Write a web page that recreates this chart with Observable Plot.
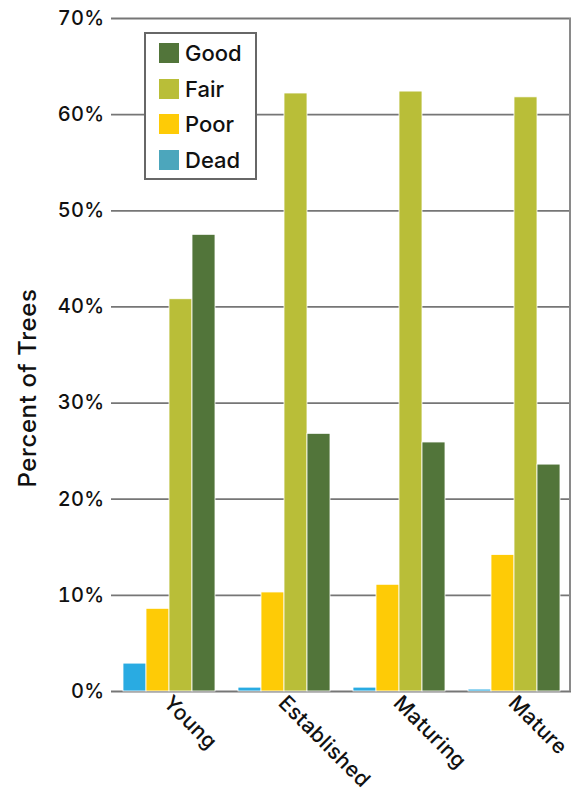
<!DOCTYPE html>
<html>
<head>
<meta charset="utf-8">
<script src="https://cdn.jsdelivr.net/npm/d3@7"></script>
<script src="https://cdn.jsdelivr.net/npm/@observablehq/plot@0.6"></script>
<style>
  html, body { margin: 0; padding: 0; background: #fff; }
  #wrap { position: relative; width: 573px; height: 798px; font-family: Inter, "Noto Sans", sans-serif; font-weight: 500; color: #111; }
  #ylabel { position: absolute; left: 27px; top: 388px; transform: translate(-50%, -50%) rotate(-90deg); font-size: 24px; letter-spacing: 0.6px; white-space: nowrap; }
  #legend { position: absolute; left: 144px; top: 32px; width: 109px; height: 144px; border: 2.5px solid #676767; background: #fff; }
  .row { position: absolute; left: 13px; height: 20px; display: flex; align-items: center; font-size: 22px; }
  .sw { width: 20px; height: 20px; margin-right: 6px; flex: none; }
</style>
</head>
<body>
<div id="wrap"><div id="chart"></div><div id="ylabel">Percent of Trees</div><div id="legend"></div></div>
<script>
const categories = ["Young", "Established", "Maturing", "Mature"];
const conditions = ["Dead", "Poor", "Fair", "Good"];
const dead = [2.9, 0.4, 0.4, 0.2];
const poor = [8.6, 10.3, 11.1, 14.2];
const fair = [40.8, 62.2, 62.4, 61.8];
const good = [47.5, 26.8, 25.9, 23.6];
const yTicks = [0, 10, 20, 30, 40, 50, 60, 70];
const barColors = ["#29abe2", "#fecb06", "#b9be38", "#52753a"];
const legendOrder = ["Good", "Fair", "Poor", "Dead"];
const legendColors = ["#52753a", "#b9be38", "#fecb06", "#4ca6bc"];

const series = [dead, poor, fair, good];
const table = [];
categories.forEach((c, i) => conditions.forEach((k, j) => table.push({group: c, condition: k, value: series[j][i]})));

const chart = Plot.plot({
  width: 573,
  height: 798,
  marginLeft: 109,
  marginRight: 1,
  marginTop: 18,
  marginBottom: 107,
  style: {fontFamily: "Inter, 'Noto Sans', sans-serif", fontWeight: 500, color: "#111", background: "transparent", overflow: "visible"},
  fx: {domain: categories, padding: 0, label: null},
  x: {domain: conditions, paddingInner: 0, paddingOuter: 0.44, axis: null},
  y: {domain: [0, 70], label: null},
  color: {domain: conditions, range: barColors},
  marks: [
    Plot.ruleY(yTicks, {stroke: "#767676", strokeWidth: 1.8}),
    Plot.barY(table, {fx: "group", x: "condition", y: "value", fill: "condition", stroke: "#fff", strokeWidth: 0.8}),
    Plot.axisY({ticks: yTicks, tickSize: 0, tickPadding: 7, tickFormat: d => d + "%", label: null, fontSize: 20, fill: "#111"}),
    Plot.axisFx({anchor: "bottom", tickRotate: 45, tickSize: 0, tickPadding: 8, label: null, fontSize: 21, fill: "#111", dx: -2})
  ]
});
document.getElementById("chart").appendChild(chart);
d3.select(chart).selectAll("text").style("letter-spacing", "0.3px");

// right border of the plot frame, from the scales
const fxs = chart.scale("fx");
const ys = chart.scale("y");
const xr = fxs.apply(categories[categories.length - 1]) + fxs.bandwidth;
d3.select(chart).append("line")
  .attr("x1", xr - 1).attr("x2", xr - 1)
  .attr("y1", ys.apply(70)).attr("y2", ys.apply(0))
  .attr("stroke", "#8a8a8a").attr("stroke-width", 2);

const legend = d3.select("#legend");
legendOrder.forEach((k, i) => {
  const row = legend.append("div").attr("class", "row").style("top", (9 + i * 35.5) + "px");
  row.append("div").attr("class", "sw").style("background", legendColors[i]);
  row.append("span").text(k);
});
</script>
</body>
</html>
